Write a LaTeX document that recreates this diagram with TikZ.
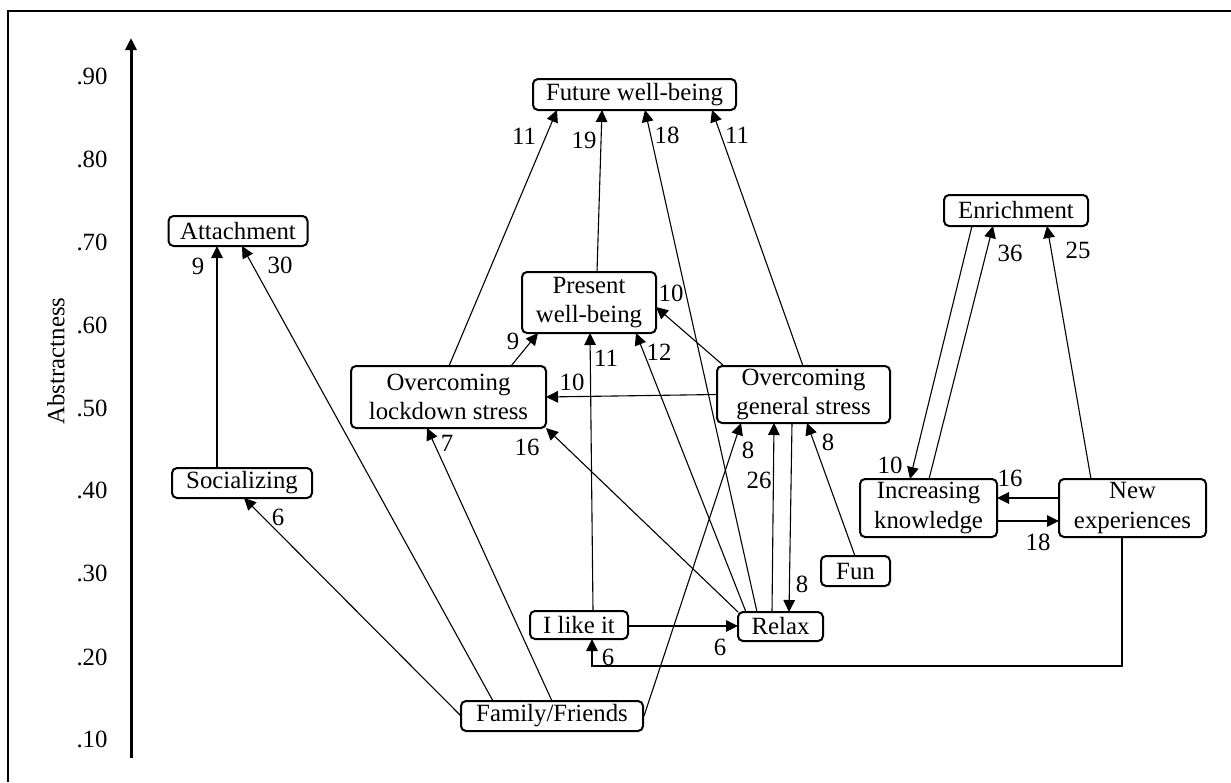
\documentclass[tikz,border=0pt]{standalone}
\usepackage{fontspec}
\setmainfont{Liberation Serif}
\usetikzlibrary{arrows.meta}
\begin{document}
\begin{tikzpicture}[x=0.5pt,y=-0.5pt,
  every node/.style={font=\fontsize{12.4}{14.6}\selectfont},
  box/.style={draw,line width=1pt,rounded corners=2.5pt,inner sep=0pt,outer sep=0pt,align=center},
  lbl/.style={inner sep=0pt},
  arr/.style={line width=0.55pt,-{Triangle[length=6pt,width=5.8pt]}},
  ln/.style={line width=0.5pt}]
\useasboundingbox (0,0) rectangle (1231,782);
% frame
\draw[line width=1pt] (8,782) -- (8,11) -- (1231,11);
% axis
\coordinate (axb) at (131,758);
\coordinate (axt) at (131,38);
\draw[line width=1.5pt,-{Triangle[length=6pt,width=5.5pt]}] (axb) -- (axt);
\foreach \v/\y in {.90/76,.80/159,.70/242,.60/325,.50/408,.40/490,.30/573,.20/657,.10/739}
  \node[lbl] (t\y) at (92,\y) {\v};
\node[lbl,rotate=90] (abs) at (56,361) {Abstractness};
% nodes
\node[box,minimum width=69.5pt,minimum height=15pt] (att) at (238,231) {Attachment};
\node[box,minimum width=70pt,minimum height=15pt] (soc) at (242,483) {Socializing};
\node[box,minimum width=101.5pt,minimum height=15.5pt] (fwb) at (634.5,94.5) {Future well-being};
\node[box,minimum width=67pt,minimum height=30.5pt] (pwb) at (589,302.5) {Present\\well-being};
\node[box,minimum width=97.5pt,minimum height=31pt] (ols) at (448.5,397) {Overcoming\\lockdown stress};
\node[box,minimum width=86.5pt,minimum height=28.5pt] (ogs) at (803.5,394.5) {Overcoming\\general stress};
\node[box,minimum width=72pt,minimum height=15.5pt] (enr) at (1016,210.5) {Enrichment};
\node[box,minimum width=68.5pt,minimum height=29pt] (ik) at (928.5,508) {Increasing\\knowledge};
\node[box,minimum width=73.5pt,minimum height=29pt] (ne) at (1132.5,508) {New\\experiences};
\node[box,minimum width=34.5pt,minimum height=15pt] (fun) at (855.5,571) {Fun};
\node[box,minimum width=42.5pt,minimum height=14.5pt] (relax) at (780.5,626.5) {Relax};
\node[box,minimum width=49pt,minimum height=14pt] (ilike) at (579,625) {I like it};
\node[box,minimum width=91pt,minimum height=15pt] (ff) at (552,716) {Family/Friends};
% edges
\draw[arr] (217,0 |- soc.north) -- (217,0 |- att.south);
\node[lbl] (l1) at (198,266) {9};
\draw[arr] (493,0 |- ff.north) -- (242,0 |- att.south);
\node[lbl] (l2) at (280,265) {30};
\draw[arr] (552,0 |- ff.north) -- (427,0 |- ols.south);
\node[lbl] (l3) at (447,443) {7};
\draw[arr] (ff.west) -- (244,0 |- soc.south);
\node[lbl] (l4) at (278,517) {6};
\draw[arr] (644,0 |- ff.east) -- (741,0 |- ogs.south);
\node[lbl] (l5) at (748,450) {8};
\draw[arr] (449,0 |- ols.north) -- (557,0 |- fwb.south);
\node[lbl] (l6) at (524,136) {11};
\draw[arr] (597,0 |- pwb.north) -- (602,0 |- fwb.south);
\node[lbl] (l7) at (584,140) {19};
\draw[arr] (757,0 |- relax.north) -- (645,0 |- fwb.south);
\node[lbl] (l8) at (667,135) {18};
\draw[arr] (803,0 |- ogs.north) -- (712,0 |- fwb.south);
\node[lbl] (l9) at (737,135) {11};
\draw[arr] (511,0 |- ols.north) -- (538,0 |- pwb.south);
\node[lbl] (l10) at (513,341) {9};
\draw[arr] (593,0 |- ilike.north) -- (590,0 |- pwb.south);
\node[lbl] (l11) at (606,358) {11};
\draw[arr] (746,0 |- relax.north) -- (636,0 |- pwb.south);
\node[lbl] (l12) at (659,352) {12};
\draw[arr] (724,0 |- ogs.north) -- (pwb.east |- 0,307);
\node[lbl] (l13) at (671,293) {10};
\draw[arr] (ogs.west) -- (ols.east);
\node[lbl] (l14) at (572,382) {10};
\draw[arr] (relax.north west) -- (ols.south east);
\node[lbl] (l15) at (527,447) {16};
\draw[arr] (772,0 |- relax.north) -- (774,0 |- ogs.south);
\node[lbl] (l16) at (759,480) {26};
\draw[arr] (792,0 |- ogs.south) -- (789,0 |- relax.north);
\node[lbl] (l17) at (802,584) {8};
\draw[arr] (855,0 |- fun.north) -- (807,0 |- ogs.south);
\node[lbl] (l18) at (828,442) {8};
\draw[arr] (ilike.east |- 0,626) -- (relax.west |- 0,626);
\node[lbl] (l19) at (720,647) {6};
\coordinate (c1) at (1122,666);
\coordinate (c2) at (592,666);
\draw[arr] (1122,0 |- ne.south) -- (c1) -- (c2) -- (592,0 |- ilike.south);
\node[lbl] (l20) at (608,657) {6};
\draw[arr] (972,0 |- enr.south) -- (910,0 |- ik.north);
\node[lbl] (l21) at (890,465) {10};
\draw[arr] (929,0 |- ik.north) -- (993,0 |- enr.south);
\node[lbl] (l22) at (1010,253) {36};
\draw[arr] (1091,0 |- ne.north) -- (1047,0 |- enr.south);
\node[lbl] (l23) at (1078,250) {25};
\draw[arr] (ne.west |- 0,498) -- (ik.east |- 0,498);
\node[lbl] (l24) at (1010,478) {16};
\draw[arr] (ik.east |- 0,521) -- (ne.west |- 0,521);
\node[lbl] (l25) at (1038,542) {18};
\end{tikzpicture}
\end{document}
